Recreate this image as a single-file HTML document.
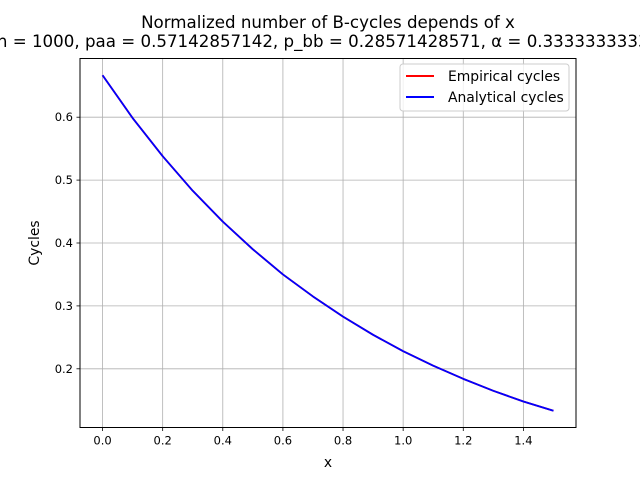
<!DOCTYPE html>
<html><head><meta charset="utf-8"><style>
body{margin:0;background:#fff}
svg{display:block;font-family:"DejaVu Sans","Liberation Sans",sans-serif}
</style></head><body>
<svg id="chart" width="640" height="480" viewBox="0 0 640 480">
<rect width="640" height="480" fill="#fff"/>
<text x="328" y="28" text-anchor="middle" font-size="16.67">Normalized number of B-cycles depends of x</text>
<text x="328" y="47" text-anchor="middle" font-size="16.67">n = 1000, paa = 0.57142857142, p_bb = 0.28571428571, α = 0.33333333333</text>
<g id="grid"></g>
<g id="series"></g>
<rect x="80" y="58.5" width="496" height="369" fill="none" stroke="#000" stroke-width="1"/>
<g id="ticks"></g>
<text x="328" y="467" text-anchor="middle" font-size="13.9">x</text>
<text transform="translate(39,243) rotate(-90)" text-anchor="middle" font-size="13.9">Cycles</text>
<g>
<rect x="400" y="64" width="169" height="47" rx="3" fill="#fff" fill-opacity="0.8" stroke="#ccc"/>
<line x1="406" y1="76" x2="434" y2="76" stroke="red" stroke-width="2"/>
<text x="448" y="81" font-size="13.9">Empirical cycles</text>
<line x1="406" y1="97" x2="434" y2="97" stroke="blue" stroke-width="2"/>
<text x="448" y="102" font-size="13.9">Analytical cycles</text>
</g>
</svg>
<script>
const xValues=[0,0.1,0.2,0.3,0.4,0.5,0.6,0.7,0.8,0.9,1.0,1.1,1.2,1.3,1.4,1.5];
const empirical=[0.6667,0.5987,0.538,0.483,0.434,0.390,0.350,0.315,0.283,0.254,0.228,0.205,0.184,0.165,0.148,0.1333];
const analytical=[0.6667,0.5987,0.538,0.483,0.434,0.390,0.350,0.315,0.283,0.254,0.228,0.205,0.184,0.165,0.148,0.1333];
const xTicks=[0,0.2,0.4,0.6,0.8,1.0,1.2,1.4];
const yTicks=[0.2,0.3,0.4,0.5,0.6];
const NS="http://www.w3.org/2000/svg";
const L=80,R=576,T=58.5,B=427.5;
const xmin=-0.075,xmax=1.575,ymin=0.10667,ymax=0.69333;
const sx=v=>L+(v-xmin)/(xmax-xmin)*(R-L);
const sy=v=>B-(v-ymin)/(ymax-ymin)*(B-T);
function mk(tag,attrs,parent){const e=document.createElementNS(NS,tag);for(const k in attrs)e.setAttribute(k,attrs[k]);document.getElementById(parent).appendChild(e);return e;}
xTicks.forEach(v=>{
 const x=sx(v);
 const g=mk('line',{x1:x,x2:x,y1:T,y2:B,stroke:'#b0b0b0','stroke-width':0.8},'grid');
 
 
 const t=mk('line',{x1:x,x2:x,y1:B,y2:B+3.5,stroke:'#000','stroke-width':0.8},'ticks');
 
 
 const l=mk('text',{x:x,y:B+17,'text-anchor':'middle','font-size':11.5},'ticks');
 l.textContent=v.toFixed(1);
 
 
});
yTicks.forEach(v=>{
 const y=sy(v);
 const g=mk('line',{x1:L,x2:R,y1:y,y2:y,stroke:'#b0b0b0','stroke-width':0.8},'grid');
 
 
 const t=mk('line',{x1:L-3.5,x2:L,y1:y,y2:y,stroke:'#000','stroke-width':0.8},'ticks');
 
 
 const l=mk('text',{x:L-7,y:y+4,'text-anchor':'end','font-size':11.5},'ticks');
 l.textContent=v.toFixed(1);
 
 
});
function line(vals,color,name){
 const pts=xValues.map((x,i)=>sx(x).toFixed(2)+','+sy(vals[i]).toFixed(2)).join(' ');
 const p=mk('polyline',{points:pts,fill:'none',stroke:color,'stroke-width':1.8,'stroke-linejoin':'round'},'series');
 
 
}
line(empirical,'red','empirical-line');
line(analytical,'blue','analytical-line');
</script>
</body></html>
